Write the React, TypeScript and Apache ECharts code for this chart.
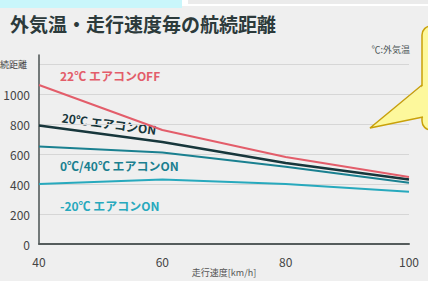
import React, { useEffect, useRef } from "react";
import * as echarts from "echarts";

const speeds = [40, 60, 80, 100];
const seriesNames = ["22℃ エアコンOFF", "20℃ エアコンON", "0℃/40℃ エアコンON", "-20℃ エアコンON"];
const off22 = [1060, 760, 580, 447];
const on20 = [790, 680, 540, 430];
const on0_40 = [650, 610, 515, 408];
const onMinus20 = [400, 430, 400, 348];
const lineColors = ["#e35d6a", "#17363b", "#1a8090", "#27a9bd"];
const yTicks = [0, 200, 400, 600, 800, 1000, 1200];

const FONT = "'Noto Sans CJK JP', 'Noto Sans', sans-serif";

export default function App() {
  const ref = useRef<HTMLDivElement>(null);
  useEffect(() => {
    if (!ref.current) return;
    const chart = echarts.init(ref.current, undefined, { renderer: "svg" });
    const data = [off22, on20, on0_40, onMinus20];
    chart.setOption({
      animation: false,
      backgroundColor: "#efefef",
      grid: { left: 39, right: 19, top: 55, bottom: 37, containLabel: false, outerBoundsMode: "none" },
      xAxis: {
        type: "value",
        min: 40,
        max: 100,
        interval: 20,
        name: "走行速度[km/h]",
        nameLocation: "middle",
        nameGap: 23,
        nameMoveOverlap: false,
        nameTextStyle: { fontSize: 9, lineHeight: 10, color: "#555", fontFamily: FONT, verticalAlign: "top" },
        axisLine: { lineStyle: { color: "#555c5c", width: 2 } },
        axisTick: { show: false },
        splitLine: { show: false },
        axisLabel: { fontSize: 12, color: "#444", margin: 11, fontFamily: FONT },
      },
      yAxis: {
        type: "value",
        min: 0,
        max: 1260,
        interval: 200,
        axisLine: { show: true, lineStyle: { color: "#4a5252", width: 1.5 } },
        axisTick: { show: false },
        splitLine: { show: true, showMaxLine: false, lineStyle: { color: "#d6d6d6", width: 1 } },
        axisLabel: {
          showMaxLabel: false,
          fontSize: 12,
          color: "#444",
          margin: 9,
          fontFamily: FONT,
          formatter: (v: number) =>
            v === yTicks[yTicks.length - 1] ? "{n|航続距離}" : yTicks.includes(v) ? String(v) : "",
          rich: { n: { fontSize: 9, color: "#444", fontFamily: FONT, padding: [0, 3, 0, 0] } },
        },
      },
      series: data.map((d, i) => ({
        name: seriesNames[i],
        type: "line",
        data: speeds.map((s, j) => [s, d[j]]),
        symbol: "none",
        lineStyle: { color: lineColors[i], width: i === 1 ? 2.5 : 2 },
        z: 10 - i,
      })),
      graphic: [
        { type: "rect", shape: { x: 0, y: 0, width: 182, height: 8 }, style: { fill: "#c9f6fb" } },
        { type: "rect", shape: { x: 182, y: 0, width: 246, height: 6 }, style: { fill: "#ffffff" } },
        { type: "rect", shape: { x: 188, y: 0, width: 240, height: 4 }, style: { fill: "#ebebeb" } },
        {
          type: "text",
          x: 10,
          y: 23,
          style: { text: "外気温・走行速度毎の航続距離", fill: "#2c3a3b", fontSize: 19, fontWeight: "bold", fontFamily: FONT, textVerticalAlign: "middle" },
        },
        {
          type: "text",
          x: 410,
          y: 49,
          style: { text: "℃:外気温", fill: "#4b5555", fontSize: 9, fontFamily: FONT, textAlign: "right", textVerticalAlign: "middle" },
        },
        {
          type: "text",
          x: 60,
          y: 75,
          style: { text: seriesNames[0], fill: "#e35d6a", fontSize: 12, fontWeight: "bold", fontFamily: FONT, textVerticalAlign: "middle" },
        },
        {
          type: "text",
          x: 62,
          y: 117,
          rotation: -0.13,
          style: { text: seriesNames[1], fill: "#17363b", fontSize: 12, fontWeight: "bold", fontFamily: FONT, textVerticalAlign: "middle" },
        },
        {
          type: "text",
          x: 60,
          y: 165,
          style: { text: seriesNames[2], fill: "#1a7f90", fontSize: 12, fontWeight: "bold", fontFamily: FONT, textVerticalAlign: "middle" },
        },
        {
          type: "text",
          x: 60,
          y: 205,
          style: { text: seriesNames[3], fill: "#27a9bd", fontSize: 12, fontWeight: "bold", fontFamily: FONT, textVerticalAlign: "middle" },
        },
        {
          type: "rect",
          z: 100,
          shape: { x: 422, y: 26, width: 30, height: 104, r: 9 },
          style: { fill: "#fdf89c", stroke: "#c9a10a", lineWidth: 1.5 },
        },
        {
          type: "polygon",
          z: 101,
          shape: { points: [[424, 85], [370, 128], [424, 117]] },
          style: { fill: "#fdf89c" },
        },
        {
          type: "polyline",
          z: 102,
          shape: { points: [[422, 85], [370, 128], [423, 117]] },
          style: { stroke: "#c9a10a", lineWidth: 1.5, fill: "none" },
        },
      ],
    });
    return () => chart.dispose();
  }, []);
  return <div ref={ref} style={{ width: 428, height: 281, position: "absolute", left: 0, top: 0 }} />;
}
